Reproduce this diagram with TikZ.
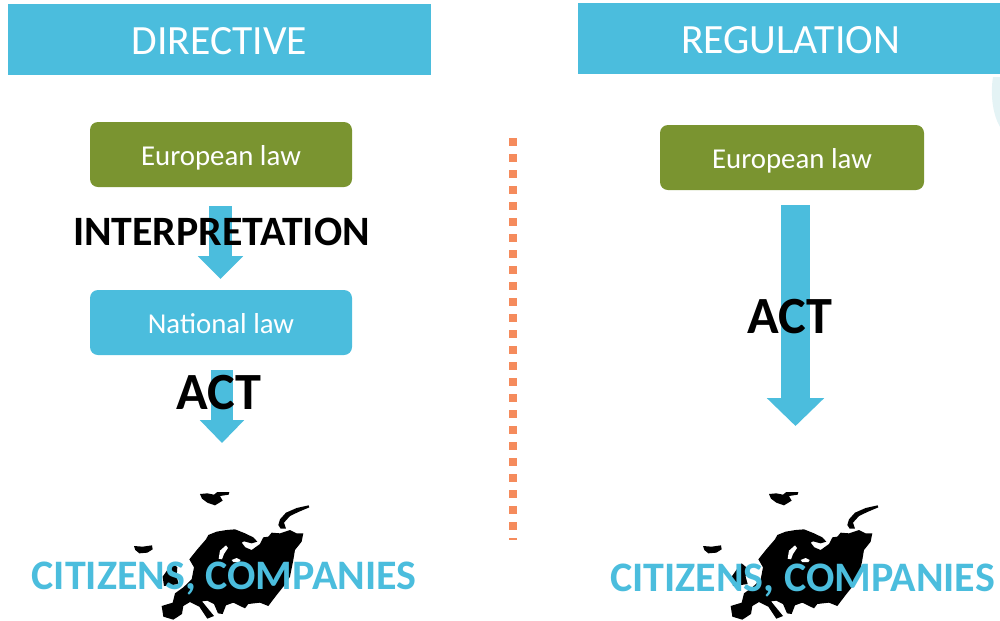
\documentclass[tikz,border=0pt]{standalone}
\usepackage{fontspec}
\setmainfont{Carlito}
\usetikzlibrary{arrows.meta}
\definecolor{sky}{HTML}{4BBDDD}
\definecolor{olive}{HTML}{7A9430}
\definecolor{dots}{HTML}{F58B5C}
\definecolor{pale}{HTML}{E4F3F5}
\newlength{\pxu}\setlength{\pxu}{0.02cm}
\tikzset{
 x=0.02cm,y=-0.02cm,
 header/.style={fill=sky,minimum width=#1*\pxu,minimum height=71*\pxu,inner sep=0pt},
 headertext/.style={text=white,inner sep=0pt,font=\fontsize{23.7}{26}\selectfont},
 lawbox/.style={rounded corners=8*\pxu,minimum height=65*\pxu,inner sep=0pt},
 lawtext/.style={text=white,inner sep=0pt,font=\fontsize{16.4}{19}\selectfont},
 blockarrow/.style n args={3}{draw=sky,line width=#1*\pxu,-{Triangle[length=#2pt,width=#3pt]}},
 overlabel/.style={text=black,inner sep=0pt,font=\bfseries\fontsize{#1}{32}\selectfont},
 people/.style={text=sky,inner sep=0pt,font=\bfseries\fontsize{23.9}{26}\selectfont},
 dotline/.style={draw=dots,line width=8*\pxu,dash pattern=on 8*\pxu off 8*\pxu},
}
\newcommand{\eumap}[1]{%
\begin{scope}[shift={(#1,480)},xscale=0.3333,yscale=0.3333]
 % Svalbard
 \fill[black] (240,42)--(262,40)--(282,44)--(292,36)--(328,36)--(326,44)--(300,48)--(308,62)--(285,76)--(262,68)--(246,56)--cycle;
 % Novaya Zemlya
 \fill[black] (475,135)--(480,118)--(498,98)--(530,84)--(566,76)--(568,82)--(535,96)--(510,108)--(492,128)--(498,146)--(482,146)--cycle;
 % Iceland
 \fill[black] (42,198)--(68,200)--(96,196)--(98,208)--(82,218)--(58,220)--(46,210)--cycle;
 % Great Britain
 \fill[black] (128,290)--(142,270)--(158,250)--(172,262)--(170,290)--(176,312)--(150,316)--(132,318)--cycle;
 % Main body
 \fill[black] (208,238)--(232,208)--(258,178)--(265,165)--(290,155)--(320,150)--(345,148)--(375,160)--(400,172)--(412,185)--(395,190)--(372,184)--(365,188)--(376,202)--(395,210)--(420,192)--(430,172)--(445,170)--(455,158)--(480,160)--(510,150)--(530,160)--(550,160)--(545,185)--(525,210)--(520,240)--(510,290)--(490,320)--(470,345)--(445,378)--(420,368)--(385,372)--(375,385)--(340,368)--(318,376)--(308,402)--(294,400)--(282,372)--(262,362)--(246,364)--(282,408)--(262,416)--(238,380)--(210,366)--(190,378)--(186,402)--(160,419)--(130,410)--(125,378)--(158,368)--(165,340)--(190,322)--(215,298)--(222,262)--cycle;
 % Baltic
 \fill[white] (296,236)--(300,212)--(318,196)--(324,204)--(312,222)--(306,238)--cycle;
 \fill[white] (335,240)--(350,234)--(362,240)--(358,246)--(340,246)--cycle;
\end{scope}}
\begin{document}
\begin{tikzpicture}
\useasboundingbox (0,0) rectangle (1000,620);
% pale arc at the right edge
\fill[pale] (1000,77) -- (993,77) .. controls (990,95) and (993,115) .. (1000,127) -- cycle;
% headers
\node[header=423] (directive) at (219.5,39.5) {};
\node[headertext] (directivet) at (219.5,41) {DIRECTIVE};
\node[header=422] (regulation) at (789,38.5) {};
\node[headertext] (regulationt) at (790.5,40) {REGULATION};
% boxes
\node[lawbox,fill=olive,minimum width=262*\pxu] (eulaw1) at (221,154.5) {};
\node[lawtext] (eulaw1t) at (221,158) {European law};
\node[lawbox,fill=sky,minimum width=262*\pxu] (natlaw) at (221,322.5) {};
\node[lawtext] (natlawt) at (221,324) {National law};
\node[lawbox,fill=olive,minimum width=264*\pxu] (eulaw2) at (792,157.5) {};
\node[lawtext] (eulaw2t) at (792,161) {European law};
% arrows
\coordinate (a1s) at (220.5,206);
\coordinate (a1e) at (220.5,279);
\coordinate (a2s) at (222,370);
\coordinate (a2e) at (222,443);
\coordinate (a3s) at (795.5,205);
\coordinate (a3e) at (795.5,426);
\draw[blockarrow={23}{13}{25}] (a1s) -- (a1e);
\draw[blockarrow={22}{13}{24.4}] (a2s) -- (a2e);
\draw[blockarrow={29}{15.9}{31.75}] (a3s) -- (a3e);
% divider
\coordinate (d1) at (513,138);
\coordinate (d2) at (513,540);
\draw[dotline] (d1) -- (d2);
% maps
\eumap{120}
\eumap{689}
% labels
\node[overlabel=23.8] (interp) at (221.5,231.5) {INTERPRETATION};
\node[overlabel=29.75] (act1) at (218.5,393) {ACT};
\node[overlabel=29.75] (act2) at (789.5,317) {ACT};
\node[people] (cit1) at (224,578.5) {CITIZENS, COMPANIES};
\node[people] (cit2) at (802.5,581) {CITIZENS, COMPANIES};
\end{tikzpicture}
\end{document}
